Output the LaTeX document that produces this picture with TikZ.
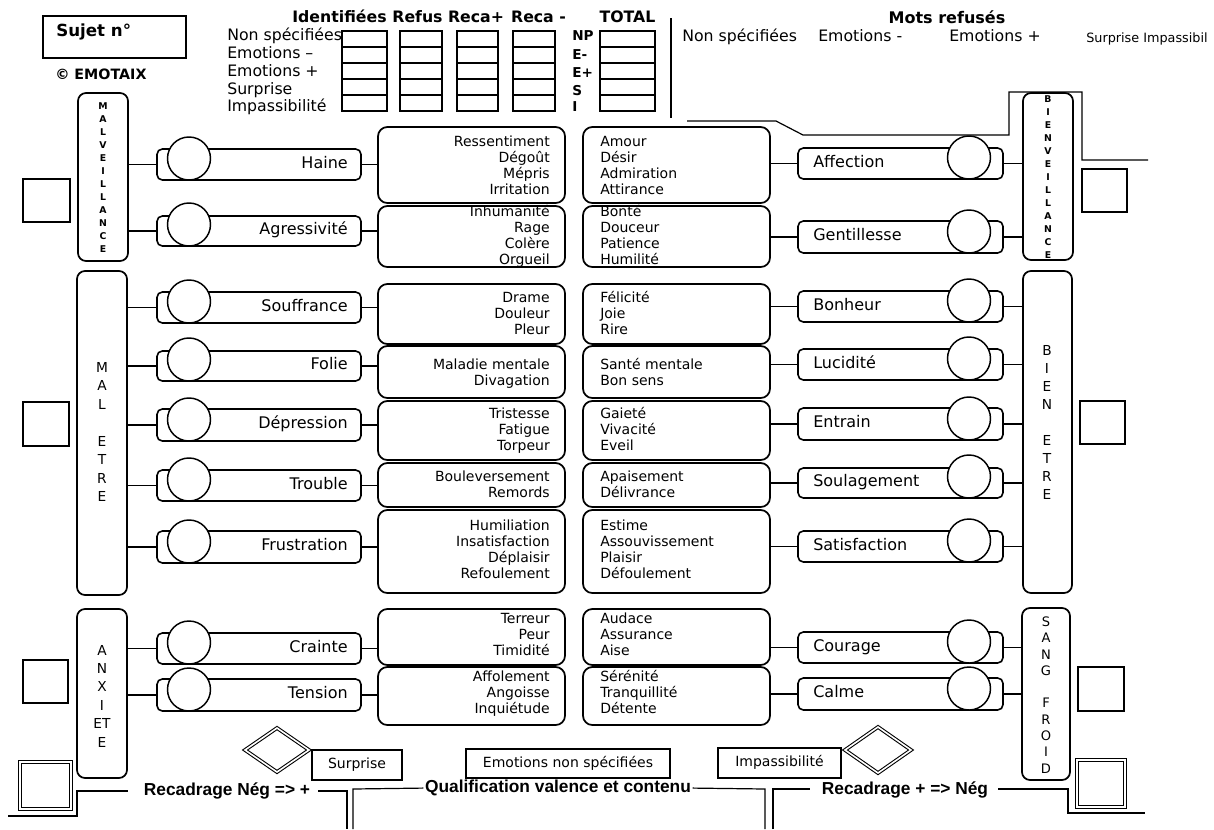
\documentclass[tikz,border=0pt]{standalone}
\usepackage{fontspec}
\setmainfont{DejaVu Sans}
\newfontfamily\arialf{Liberation Sans}
\usetikzlibrary{fit}
\newcommand\mleft[5]{%
  \node[mbox, fit={(378,#2)(565,#3)}] (ml#1) {};
  \foreach \w [count=\i] in {#5} \node[item, anchor=mid east] (ml#1-\i) at (550,{#4+16*(\i-1)}) {\w};}
\newcommand\mright[5]{%
  \node[mbox, fit={(583,#2)(770,#3)}] (mr#1) {};
  \foreach \w [count=\i] in {#5} \node[item, anchor=mid west] (mr#1-\i) at (600,{#4+16*(\i-1)}) {\w};}
\begin{document}
\begin{tikzpicture}[x=0.75pt,y=-0.75pt,
  cat/.style={draw, line width=1.3pt, rounded corners=6pt, inner sep=0pt},
  pill/.style={draw, line width=1.2pt, rounded corners=4pt, inner sep=0pt},
  mbox/.style={draw, line width=1.3pt, rounded corners=7pt, inner sep=0pt},
  ring/.style={circle, draw, fill=white, line width=1.1pt, minimum size=32.25pt, inner sep=0pt},
  plabel/.style={font=\fontsize{12}{13}\selectfont, inner sep=0pt},
  item/.style={font=\fontsize{10.5}{12}\selectfont, inner sep=0pt},
  cell/.style={draw, line width=0.8pt, inner sep=0pt},
  conn/.style={line width=1.3pt},
  thin/.style={line width=0.9pt},
  dbl/.style={draw, line width=0.8pt, double, double distance=1.2pt},
  sq/.style={draw, line width=0.9pt},
  hdr/.style={font=\fontsize{11.8}{13}\selectfont\bfseries, inner sep=0pt, anchor=mid},
  lbl/.style={font=\fontsize{11.8}{13}\selectfont, inner sep=0pt, anchor=mid west},
  code/.style={font=\fontsize{10.2}{12}\selectfont\bfseries, inner sep=0pt, anchor=mid west},
  vlet/.style={align=center, inner sep=0pt},
  bbox/.style={draw, line width=1.2pt, inner sep=0pt},
  btxt/.style={font=\fontsize{10.5}{12}\selectfont, inner sep=0pt, anchor=mid},
  rec/.style={font=\arialf\fontsize{13}{15}\selectfont\bfseries, inner sep=0pt, anchor=mid},
]
\fill[white] (0,0) rectangle (1214,829);
\useasboundingbox (0,0) rectangle (1214,829);

% ---- header left
\node[draw, line width=1pt, inner sep=0pt, fit={(43,16)(186,58)}] (sujet) {};
\node[font=\fontsize{12.5}{14}\selectfont\bfseries, anchor=mid west, inner sep=0pt] (sujett) at (56,33) {Sujet n°};
\node[font=\fontsize{10.7}{12}\selectfont\bfseries, anchor=mid west, inner sep=0pt] (emotaix) at (55,76) {© EMOTAIX};

% ---- table
\node[hdr] (h1) at (339.5,19) {Identifiées};
\node[hdr] (h2) at (417.5,19) {Refus};
\node[hdr] (h3) at (476,19) {Reca+};
\node[hdr] (h4) at (538.5,19) {Reca -};
\node[hdr] (h5) at (627.5,19) {TOTAL};
\node[lbl] (r1) at (227,37) {Non spécifiées};
\node[lbl] (r2) at (227,55) {Emotions –};
\node[lbl] (r3) at (227,73) {Emotions +};
\node[lbl] (r4) at (227,91) {Surprise};
\node[lbl] (r5) at (227,108) {Impassibilité};
\foreach \c/\xa/\xb in {1/342/387,2/400/442,3/457/498,4/513/555,5/600/655}
  \foreach \r in {0,...,4}
    \node[cell, fit={(\xa,{31+16*\r})(\xb,{47+16*\r})}] (g\c-\r) {};
\node[code] (k1) at (572,37) {NP};
\node[code] (k2) at (572,56) {E-};
\node[code] (k3) at (572,74) {E+};
\node[code] (k4) at (572,92) {S};
\node[code] (k5) at (572,108) {I};
\draw[thin] (671,18) -- (671,118);

% ---- mots refuses
\node[font=\fontsize{12}{14}\selectfont\bfseries, inner sep=0pt, anchor=mid] (mr) at (947,20) {Mots refusés};
\node[lbl] (m1) at (682,38) {Non spécifiées};
\node[lbl] (m2) at (818,38) {Emotions -};
\node[lbl] (m3) at (949,38) {Emotions +};
\node[font=\fontsize{9.6}{11}\selectfont, inner sep=0pt, anchor=mid west] (m4) at (1086,39) {Surprise Impassibil};
\draw[thin] (687,121) -- (776,121) -- (803,135) -- (1009,135) -- (1009,92) -- (1082,92) -- (1082,160) -- (1148,160);

% ---- category boxes
\node[cat, fit={(78,93)(128,261)}] (mv) {};
\node[vlet, font=\fontsize{7}{9.75}\selectfont\bfseries] (mvt) at (103,178) {M\\A\\L\\V\\E\\I\\L\\L\\A\\N\\C\\E};
\node[cat, fit={(77,271)(127,595)}] (me) {};
\node[vlet, font=\fontsize{10.3}{13.9}\selectfont] (met) at (102,432) {M\\A\\L\\[13.9pt]E\\T\\R\\E};
\node[cat, fit={(77,609)(127,778)}] (ax) {};
\node[vlet, font=\fontsize{10.3}{13.8}\selectfont] (axt) at (102,696) {A\\N\\X\\I\\ET\\E};
\node[cat, fit={(1023,93)(1073,260)}] (bv) {};
\node[vlet, font=\fontsize{7}{9.7}\selectfont\bfseries] (bvt) at (1048,177) {B\\I\\E\\N\\V\\E\\I\\L\\L\\A\\N\\C\\E};
\node[cat, fit={(1023,271)(1072,593)}] (be) {};
\node[vlet, font=\fontsize{10.3}{13.5}\selectfont] (bet) at (1047,422) {B\\I\\E\\N\\[13.5pt]E\\T\\R\\E};
\node[cat, fit={(1022,608)(1070,780)}] (sf) {};
\node[vlet, font=\fontsize{9.8}{12.2}\selectfont] (sft) at (1046,695) {S\\A\\N\\G\\[12.2pt]F\\R\\O\\I\\D};

% ---- side squares
\draw[sq] (23,179) rectangle (70,222);
\draw[sq] (23,402) rectangle (69,446);
\draw[sq] (23,660) rectangle (68,703);
\draw[sq] (1082,169) rectangle (1127,212);
\draw[sq] (1080,401) rectangle (1125,444);
\draw[sq] (1078,667) rectangle (1124,711);
\draw[dbl] (20,762) rectangle (71,809);
\draw[dbl] (1077,760) rectangle (1125,807);

% ---- middle boxes
\mleft{1}{127}{203}{143}{Ressentiment,Dégoût,Mépris,Irritation}
\mleft{2}{206}{267}{213}{Inhumanité,Rage,Colère,Orgueil}
\mleft{3}{284}{344}{299}{Drame,Douleur,Pleur}
\mleft{4}{346}{398}{366}{Maladie mentale,Divagation}
\mleft{5}{401}{460}{415}{Tristesse,Fatigue,Torpeur}
\mleft{6}{463}{507}{478}{Bouleversement,Remords}
\mleft{7}{510}{593}{527}{Humiliation,Insatisfaction,Déplaisir,Refoulement}
\mleft{8}{609}{665}{620}{Terreur,Peur,Timidité}
\mleft{9}{667}{725}{678}{Affolement,Angoisse,Inquiétude}
\mright{1}{127}{203}{143}{Amour,Désir,Admiration,Attirance}
\mright{2}{206}{267}{213}{Bonté,Douceur,Patience,Humilité}
\mright{3}{284}{344}{299}{Félicité,Joie,Rire}
\mright{4}{346}{398}{366}{Santé mentale,Bon sens}
\mright{5}{401}{460}{415}{Gaieté,Vivacité,Eveil}
\mright{6}{463}{507}{478}{Apaisement,Délivrance}
\mright{7}{510}{593}{527}{Estime,Assouvissement,Plaisir,Défoulement}
\mright{8}{609}{665}{620}{Audace,Assurance,Aise}
\mright{9}{667}{725}{678}{Sérénité,Tranquillité,Détente}

% ---- left pills
\foreach \n/\lab/\t/\b/\p in {1/Haine/149/180/mv, 2/Agressivité/216/246/mv, 3/Souffrance/292/323/me, 4/Folie/351/381/me, 5/Dépression/409/441/me, 6/Trouble/470/501/me, 7/Frustration/531/563/me, 8/Crainte/633/664/ax, 9/Tension/679/711/ax}{
  \node[pill, fit={(157,\t)(361,\b)}] (pl\n) {};
  \node[ring] (cl\n) at (189,{\b-21.5}) {};
  \node[plabel, anchor=mid east] (tl\n) at (348,{(\t+\b)/2}) {\lab};
  \draw[conn] (\p.east |- pl\n.west) -- (pl\n.west);
  \draw[conn] (pl\n.east) -- (ml\n.west |- pl\n.east);
}
% ---- right pills
\foreach \n/\lab/\t/\b/\p in {1/Affection/148/179/bv, 2/Gentillesse/221/253/bv, 3/Bonheur/291/322/be, 4/Lucidité/349/380/be, 5/Entrain/408/440/be, 6/Soulagement/468/498/be, 7/Satisfaction/531/562/be, 8/Courage/632/663/sf, 9/Calme/678/710/sf}{
  \node[pill, fit={(798,\t)(1003,\b)}] (pr\n) {};
  \node[ring] (cr\n) at (969,{\b-21.5}) {};
  \node[plabel, anchor=mid west] (tr\n) at (813,{(\t+\b)/2}) {\lab};
  \draw[conn] (pr\n.east) -- (\p.west |- pr\n.east);
  \draw[conn] (mr\n.east |- pr\n.west) -- (pr\n.west);
}

% ---- bottom
\draw[dbl] (245,750) -- (277,728) -- (309,750) -- (277,772) -- cycle;
\draw[dbl] (845,750) -- (878,727) -- (911,750) -- (878,773) -- cycle;
\node[bbox, fit={(312,750)(402,780)}] (surp) {};
\node[btxt] (surpt) at (surp.center) {Surprise};
\node[bbox, fit={(466,749)(670,778)}] (nonsp) {};
\node[btxt] (nonspt) at (nonsp.center) {Emotions non spécifiées};
\node[bbox, fit={(718,748)(841,778)}] (impa) {};
\node[btxt] (impat) at (impa.center) {Impassibilité};

\node[rec] (recl) at (227,792) {Recadrage Nég => +};
\node[rec] (qual) at (558,789) {Qualification valence et contenu};
\node[rec] (recr) at (905,791) {Recadrage + => Nég};
\draw[thin] (8,816) -- (77,816) -- (77,791) -- (128,791);
\draw[thin] (318,791) -- (347,791) -- (347,829);
\draw[thin] (353,829) -- (353,789) -- ([xshift=-1pt]qual.west);
\draw[thin] ([xshift=1pt]qual.east) -- (765,789) -- (765,829);
\draw[thin] (773,829) -- (773,789) -- (810,789);
\draw[thin] (998,789) -- (1068,789) -- (1068,813) -- (1145,813);
\end{tikzpicture}
\end{document}
